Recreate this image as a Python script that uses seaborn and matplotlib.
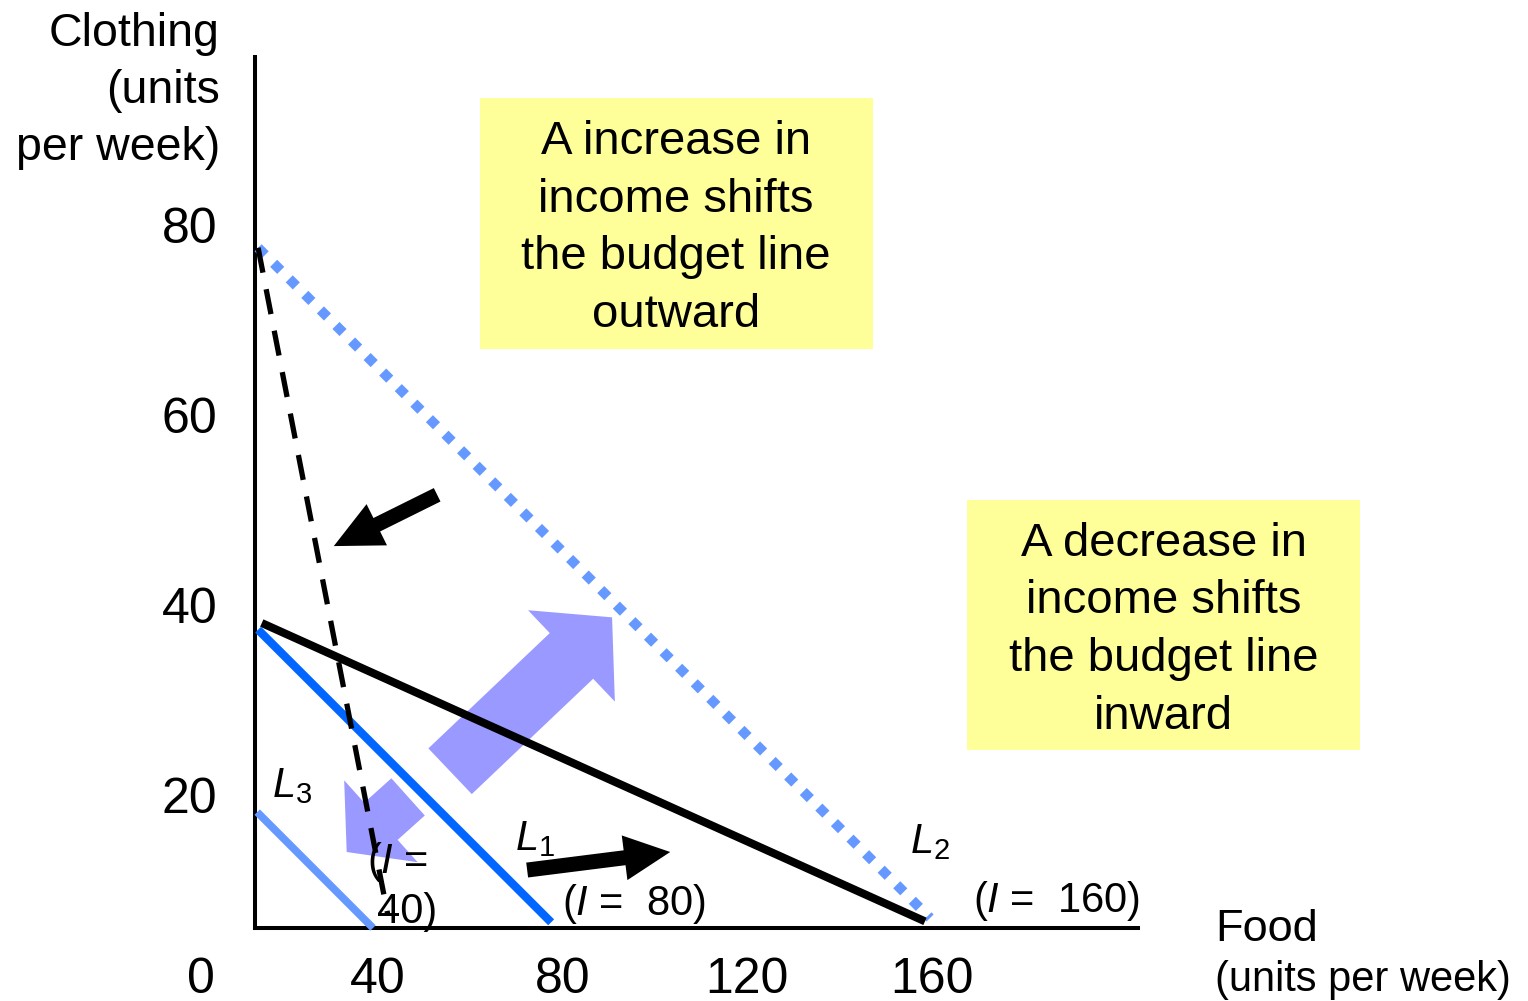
import matplotlib
matplotlib.use("Agg")
import matplotlib.pyplot as plt
from matplotlib.patches import Rectangle
import pandas as pd
import seaborn as sns

# Budget lines: (food, clothing) end points
l1_food = [14.0, 77.5]
l1_clothing = [37.4, 6.6]
l2_food = [14.8, 158.5]
l2_clothing = [38.1, 6.7]
l3_food = [13.8, 38.9]
l3_clothing = [18.2, 6.0]
outer_food = [14.0, 159.6]
outer_clothing = [77.6, 7.05]
pivot_food = [14.0, 42.1]
pivot_clothing = [77.6, 7.4]

x_ticks = [40, 80, 120, 160]
y_ticks = [20, 40, 60, 80]

box_up_text = "A increase in\nincome shifts\nthe budget line\noutward"
box_down_text = "A decrease in\nincome shifts\nthe budget line\ninward"

sns.set_theme(style="white")
plt.rcParams["font.family"] = ["Liberation Sans", "DejaVu Sans"]
plt.rcParams["text.color"] = "black"
plt.rcParams["mathtext.fontset"] = "custom"
plt.rcParams["mathtext.rm"] = "Liberation Sans"
plt.rcParams["mathtext.it"] = "Liberation Sans:italic"

fig = plt.figure(figsize=(15.28, 10.01), dpi=100)
fig.patch.set_facecolor("white")
ax = fig.add_axes([0.16688, 0.07293, 0.5779, 0.8701])
ax.set_facecolor("none")
ax.set_xlim(13.33, 204.66)
ax.set_ylim(6.0, 97.68)

for side in ("top", "right"):
    ax.spines[side].set_visible(False)
for side in ("left", "bottom"):
    ax.spines[side].set_color("black")
    ax.spines[side].set_linewidth(2.9)

ax.set_xticks(x_ticks)
ax.set_yticks(y_ticks)
ax.set_xticklabels([str(v) for v in x_ticks])
ax.set_yticklabels([str(v) for v in y_ticks])
ax.tick_params(axis="both", length=0, labelsize=36, colors="black",
               labelcolor="black")
ax.tick_params(axis="x", pad=21)
ax.tick_params(axis="y", pad=27)
ax.grid(False)

blue = "#0066FF"
light_blue = "#6699FF"
purple = "#9999FF"

# shift arrows (drawn underneath the lines)
def block_arrow(tail, tip, style, color, z):
    ax.annotate("", xy=tip, xytext=tail, xycoords="data", textcoords="data",
                annotation_clip=False,
                arrowprops=dict(arrowstyle=style, mutation_scale=72,
                                fc=color, ec="none", lw=0,
                                shrinkA=0, shrinkB=0),
                zorder=z)

block_arrow((55.6, 22.5), (90.7, 38.7),
            "simple,head_length=0.56,head_width=1.26,tail_width=0.63", purple, 1)
block_arrow((46.5, 19.8), (33.2, 14.0),
            "simple,head_length=0.46,head_width=1.1,tail_width=0.5", purple, 1)

# budget lines
sns.lineplot(x=outer_food, y=outer_clothing, ax=ax, color=light_blue,
             linewidth=7.2, linestyle=(0, (1.0, 1.2)), sort=False,
             estimator=None, clip_on=False, zorder=3)
sns.lineplot(x=pivot_food, y=pivot_clothing, ax=ax, color="black",
             linewidth=3.8, linestyle=(0, (4.8, 3.2)), sort=False,
             estimator=None, clip_on=False, zorder=4)
sns.lineplot(x=l2_food, y=l2_clothing, ax=ax, color="black",
             linewidth=5.8, sort=False, estimator=None, clip_on=False,
             solid_capstyle="butt", zorder=3)
sns.lineplot(x=l1_food, y=l1_clothing, ax=ax, color=blue,
             linewidth=6, sort=False, estimator=None, clip_on=False,
             solid_capstyle="butt", zorder=3)
sns.lineplot(x=l3_food, y=l3_clothing, ax=ax, color=light_blue,
             linewidth=5.5, sort=False, estimator=None, clip_on=False,
             solid_capstyle="butt", zorder=3)
ax.set_xlabel("")
ax.set_ylabel("")

# black direction arrows
block_arrow((52.8, 51.6), (30.4, 46.2),
            "simple,head_length=0.48,head_width=0.46,tail_width=0.15", "black", 5)
block_arrow((72.3, 12.1), (103.3, 14.0),
            "simple,head_length=0.46,head_width=0.45,tail_width=0.15", "black", 5)

# explanation boxes
ax.add_patch(Rectangle((62.08, 66.95), 147.2 - 62.08, 93.37 - 66.95,
                       facecolor="#FFFF99", edgecolor="none",
                       clip_on=False, zorder=2))
ax.text(104.6, 79.65, box_up_text, ha="center", va="center", fontsize=34,
        linespacing=1.4, color="black", zorder=6)
ax.add_patch(Rectangle((167.6, 24.74), 252.8 - 167.6, 51.05 - 24.74,
                       facecolor="#FFFF99", edgecolor="none",
                       clip_on=False, zorder=2))
ax.text(210.2, 37.35, box_down_text, ha="center", va="center", fontsize=34,
        linespacing=1.4, color="black", zorder=6)

# axis titles
ax.text(5.74, 94.1, "Clothing\n(units\nper week)", ha="right", va="center",
        fontsize=33.5, linespacing=1.38, multialignment="right", color="black")
ax.text(221.3, 4.63, "Food", ha="left", va="baseline", fontsize=32.5, color="black")
ax.text(221.3, -0.6, "(units per week)", ha="left", va="baseline", fontsize=30,
        color="black")
ax.text(1.6, 2.95, "0", ha="center", va="top", fontsize=36, color="black")

# line labels
ax.text(17.0, 19.8, r"$\mathit{L}_{\mathit{3}}$", ha="left", va="baseline",
        fontsize=30, color="black")
ax.text(69.7, 14.2, r"$\mathit{L}_{\mathit{1}}$", ha="left", va="baseline",
        fontsize=30, color="black")
ax.text(155.3, 13.9, r"$\mathit{L}_{\mathit{2}}$", ha="left", va="baseline",
        fontsize=30, color="black")

# income labels
ax.text(37.6, 11.8, r"($\mathit{I}$ =", ha="left", va="baseline", fontsize=30,
        color="black", zorder=6)
ax.text(39.8, 6.5, "40)", ha="left", va="baseline", fontsize=30,
        color="black", zorder=6)
ax.text(79.85, 7.37, r"($\mathit{I}$ =  80)", ha="left", va="baseline",
        fontsize=30, color="black", zorder=6)
ax.text(168.9, 7.68, r"($\mathit{I}$ =  160)", ha="left", va="baseline",
        fontsize=30, color="black", zorder=6)

fig.savefig("out.png", dpi=100, facecolor="white")
